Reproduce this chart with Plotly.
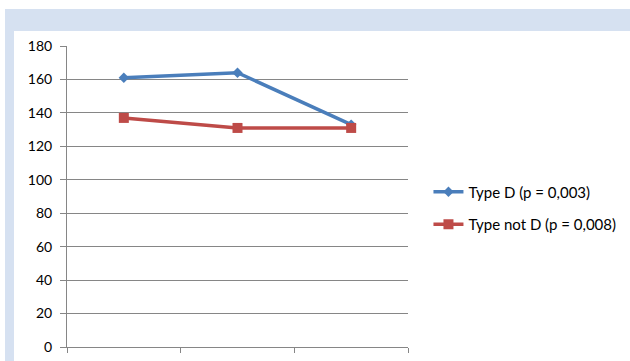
import plotly.graph_objects as go

# Three measurement points (no category labels on the axis)
points = [1, 2, 3]
type_d = [161, 164, 133]
type_not_d = [137, 131, 131]
series_names = ["Type D (p = 0,003)", "Type not D (p = 0,008)"]
y_ticks = [0, 20, 40, 60, 80, 100, 120, 140, 160, 180]

W, H = 630, 361
L, R, T, B = 67, 222, 46, 14
pw, ph = W - L - R, H - T - B


def px_x(p):
    return (p - L) / pw


def px_y(p):
    return (H - B - p) / ph


fig = go.Figure()
fig.add_trace(go.Scatter(
    x=points, y=type_d, name=series_names[0], mode="lines+markers",
    legendgroup="d",
    line=dict(color="#4a7ebb", width=3.5),
    marker=dict(symbol="diamond", size=8, color="#4a7ebb"),
))
fig.add_trace(go.Scatter(
    x=points, y=type_not_d, name=series_names[1], mode="lines+markers",
    legendgroup="nd",
    line=dict(color="#be4b48", width=3.5),
    marker=dict(symbol="square", size=10, color="#be4b48"),
))

frame = "#d6e1f1"
fig.add_shape(type="rect", xref="paper", yref="paper", layer="below",
              x0=px_x(5), x1=px_x(632), y0=px_y(31), y1=px_y(9),
              fillcolor=frame, line_width=0)
fig.add_shape(type="rect", xref="paper", yref="paper", layer="below",
              x0=px_x(5), x1=px_x(14), y0=px_y(363), y1=px_y(9),
              fillcolor=frame, line_width=0)

fig.update_layout(
    width=W, height=H,
    margin=dict(l=L, r=R, t=T, b=B, autoexpand=False),
    paper_bgcolor="white", plot_bgcolor="white",
    font=dict(family="Lato, 'Open Sans', sans-serif", size=14, color="#000000"),
    showlegend=True,
    legend=dict(x=1.06, xanchor="left", y=0.462, yanchor="middle",
                font=dict(size=15), itemwidth=30, traceorder="grouped",
                tracegroupgap=10, bgcolor="rgba(0,0,0,0)"),
)
fig.update_xaxes(
    range=[0.5, 3.5], tickvals=[0.5, 1.5, 2.5, 3.5], showticklabels=False,
    ticks="outside", ticklen=5, tickcolor="#868686", automargin=False,
    showgrid=False, zeroline=False, showline=True, linecolor="#868686", linewidth=1,
)
fig.update_yaxes(
    range=[0, 180], tickvals=y_ticks, ticks="outside", ticklen=6, tickcolor="#868686",
    automargin=False, ticklabelstandoff=5, tickfont=dict(size=14),
    showgrid=True, gridcolor="#868686", gridwidth=1, zeroline=False,
    showline=True, linecolor="#868686", linewidth=1,
)

fig.write_html("out.html")
